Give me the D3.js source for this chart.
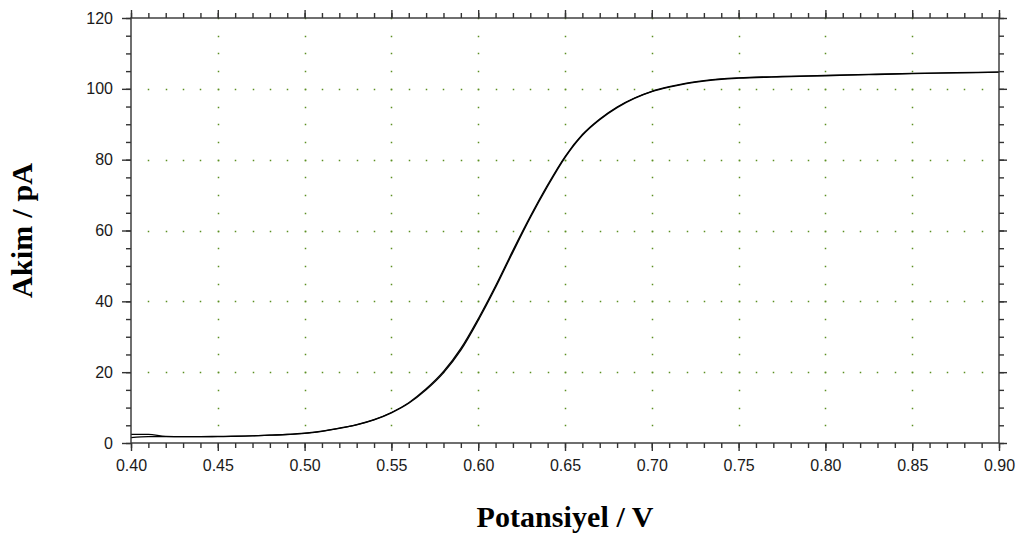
<!DOCTYPE html>
<html>
<head>
<meta charset="utf-8">
<script src="https://cdn.jsdelivr.net/npm/d3@7"></script>
<style>
  html, body { margin: 0; padding: 0; background: #fff; }
  svg { display: block; }
</style>
</head>
<body>
<svg id="chart" width="1022" height="540"></svg>
<script>
// ---- data ----
const voltage = [0.400, 0.410, 0.420, 0.430, 0.440, 0.450, 0.460, 0.470, 0.480, 0.490,
                 0.500, 0.510, 0.520, 0.530, 0.540, 0.550, 0.560, 0.570, 0.580, 0.590,
                 0.600, 0.610, 0.620, 0.630, 0.640, 0.650, 0.660, 0.670, 0.680, 0.690,
                 0.700, 0.710, 0.720, 0.730, 0.740, 0.750, 0.775, 0.800, 0.825, 0.850,
                 0.875, 0.900];
const currentForward = [1.5, 1.8, 1.8, 1.8, 1.8, 1.85, 1.9, 2.0, 2.2, 2.4,
                        2.7, 3.3, 4.1, 5.1, 6.5, 8.5, 11.2, 15.0, 19.8, 26.2,
                        34.6, 43.9, 53.9, 63.6, 72.5, 80.6, 86.9, 91.3, 94.7, 97.3,
                        99.2, 100.5, 101.5, 102.2, 102.7, 103.0, 103.4, 103.7, 104.0, 104.3,
                        104.5, 104.7];
const currentReverse = [2.45, 2.45, 1.85, 1.8, 1.8, 1.8, 1.9, 2.05, 2.2, 2.45,
                        2.8, 3.35, 4.2, 5.2, 6.6, 8.6, 11.4, 15.3, 20.2, 26.7,
                        35.1, 44.4, 54.4, 64.0, 72.9, 80.9, 87.1, 91.5, 94.9, 97.4,
                        99.3, 100.6, 101.6, 102.3, 102.8, 103.1, 103.5, 103.8, 104.1, 104.35,
                        104.55, 104.75];
const xTicks = [0.40, 0.45, 0.50, 0.55, 0.60, 0.65, 0.70, 0.75, 0.80, 0.85, 0.90];
const yTicks = [0, 20, 40, 60, 80, 100, 120];
const xLabel = "Potansiyel / V";
const yLabel = "Akim / pA";

// ---- layout ----
const svg = d3.select("#chart");
const L = 131, R = 999, T = 18, B = 443;
const x = d3.scaleLinear().domain([0.40, 0.90]).range([L, R]);
const y = d3.scaleLinear().domain([0, 120]).range([B, T]);

const xMinor = d3.range(0, 51).map(i => 0.40 + i * 0.01);
const yMinor = d3.range(0, 25).map(i => i * 5);

// dotted grid: dots at minor positions along major lines
const gridColor = "#5b8f22";
const grid = svg.append("g");
xTicks.slice(1, -1).forEach(v => {
  yMinor.slice(1).forEach(m => {
    grid.append("rect").attr("x", Math.round(x(v)) - 0.25).attr("y", Math.round(y(m)) - 0.25)
      .attr("width", 1.5).attr("height", 1.5).attr("fill", gridColor);
  });
});
yTicks.slice(1, -1).forEach(v => {
  xMinor.slice(1, -1).forEach(m => {
    grid.append("rect").attr("x", Math.round(x(m)) - 0.25).attr("y", Math.round(y(v)) - 0.25)
      .attr("width", 1.5).attr("height", 1.5).attr("fill", gridColor);
  });
});

// curves
const line = d3.line().x(d => x(d[0])).y(d => y(d[1])).curve(d3.curveMonotoneX);
svg.append("path").datum(voltage.map((v, i) => [v, currentReverse[i]]))
  .attr("d", line).attr("fill", "none").attr("stroke", "#000").attr("stroke-width", 1.2);
svg.append("path").datum(voltage.map((v, i) => [v, currentForward[i]]))
  .attr("d", line).attr("fill", "none").attr("stroke", "#000").attr("stroke-width", 1.3);

// axes
const axisColor = "#333";
function styleAxis(g) {
  g.select(".domain").remove();
  g.selectAll("line").attr("stroke", axisColor).attr("stroke-width", 1.4);
}
const fmtX = d3.format(".2f");
// bottom major + minor
svg.append("g").attr("transform", `translate(0,${B})`)
  .call(d3.axisBottom(x).tickValues(xMinor).tickSize(5).tickFormat(""))
  .call(styleAxis);
const gxb = svg.append("g").attr("transform", `translate(0,${B})`)
  .call(d3.axisBottom(x).tickValues(xTicks).tickSize(8).tickPadding(9).tickFormat(fmtX))
  .call(styleAxis);
gxb.selectAll("text").attr("font-family", "Liberation Sans, Arial, sans-serif")
  .attr("font-size", 16).attr("fill", "#1a1a1a");
// top
svg.append("g").attr("transform", `translate(0,${T})`)
  .call(d3.axisTop(x).tickValues(xMinor).tickSize(5).tickFormat(""))
  .call(styleAxis);
svg.append("g").attr("transform", `translate(0,${T})`)
  .call(d3.axisTop(x).tickValues(xTicks).tickSize(8).tickFormat(""))
  .call(styleAxis);
// left
svg.append("g").attr("transform", `translate(${L},0)`)
  .call(d3.axisLeft(y).tickValues(yMinor).tickSize(5).tickFormat(""))
  .call(styleAxis);
const gyl = svg.append("g").attr("transform", `translate(${L},0)`)
  .call(d3.axisLeft(y).tickValues(yTicks).tickSize(9).tickPadding(9).tickFormat(d3.format("d")))
  .call(styleAxis);
gyl.selectAll("text").attr("font-family", "Liberation Sans, Arial, sans-serif")
  .attr("font-size", 16).attr("fill", "#1a1a1a");
// right
svg.append("g").attr("transform", `translate(${R},0)`)
  .call(d3.axisRight(y).tickValues(yMinor).tickSize(5).tickFormat(""))
  .call(styleAxis);
svg.append("g").attr("transform", `translate(${R},0)`)
  .call(d3.axisRight(y).tickValues(yTicks).tickSize(8).tickFormat(""))
  .call(styleAxis);

// frame
svg.append("rect").attr("x", L).attr("y", T).attr("width", R - L).attr("height", B - T)
  .attr("fill", "none").attr("stroke", axisColor).attr("stroke-width", 1.4);

// axis titles
svg.append("text").attr("x", (L + R) / 2).attr("y", 527)
  .attr("text-anchor", "middle")
  .attr("font-family", "Liberation Serif, 'Times New Roman', serif")
  .attr("font-weight", "bold").attr("font-size", 30)
  .attr("textLength", 177).attr("lengthAdjust", "spacing")
  .attr("fill", "#000").text(xLabel);
svg.append("text").attr("transform", `translate(32,${(T + B) / 2}) rotate(-90)`)
  .attr("text-anchor", "middle")
  .attr("font-family", "Liberation Serif, 'Times New Roman', serif")
  .attr("font-weight", "bold").attr("font-size", 30)
  .attr("textLength", 135).attr("lengthAdjust", "spacing")
  .attr("fill", "#000").text(yLabel);
</script>
</body>
</html>
